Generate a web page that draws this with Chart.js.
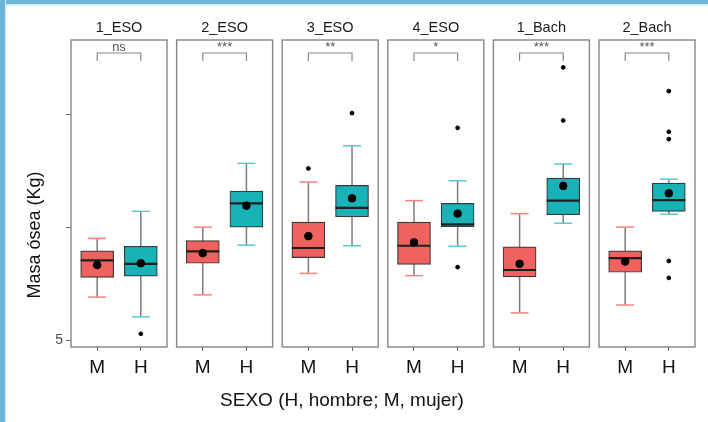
<!DOCTYPE html>
<html>
<head>
<meta charset="utf-8">
<script src="https://cdn.jsdelivr.net/npm/chart.js@4.4.0/dist/chart.umd.min.js"></script>
<style>
  html, body { margin: 0; padding: 0; background: #fff; }
  #wrap { position: relative; width: 708px; height: 422px; overflow: hidden; }
  #chart { position: absolute; left: 0; top: 0; }
  .frame-top { position: absolute; left: 0; top: 0; width: 708px; height: 4px; background: #6db4da; border-bottom: 2px solid #d6ebf6; }
  .frame-left { position: absolute; left: 0; top: 0; width: 5px; height: 422px; background: #6db4da; border-right: 1px solid #d6ebf6; }
</style>
</head>
<body>
<div id="wrap">
  <canvas id="chart" width="708" height="422"></canvas>
  <div class="frame-top"></div>
  <div class="frame-left"></div>
</div>
<script>
const groups = ['1_ESO', '2_ESO', '3_ESO', '4_ESO', '1_Bach', '2_Bach'];
const sexes = ['M', 'H'];
const signif = ['ns', '***', '**', '*', '***', '***'];
const yTicks = [5, 6, 7];

// M (mujer)
const mWhiskerLow  = [5.38, 5.40, 5.59, 5.57, 5.24, 5.31];
const mQ1          = [5.555, 5.68, 5.73, 5.67, 5.56, 5.60];
const mMedian      = [5.705, 5.785, 5.815, 5.835, 5.62, 5.725];
const mQ3          = [5.79, 5.88, 6.045, 6.045, 5.825, 5.79];
const mWhiskerHigh = [5.90, 6.00, 6.40, 6.235, 6.12, 6.00];
const mMean        = [5.665, 5.77, 5.92, 5.865, 5.675, 5.695];
const mOutliers    = [[], [], [6.52], [], [], []];

// H (hombre)
const hWhiskerLow  = [5.205, 5.84, 5.835, 5.83, 6.035, 6.115];
const hQ1          = [5.565, 6.00, 6.09, 6.005, 6.11, 6.14];
const hMedian      = [5.675, 6.21, 6.17, 6.025, 6.235, 6.24];
const hQ3          = [5.83, 6.32, 6.37, 6.21, 6.435, 6.39];
const hWhiskerHigh = [6.14, 6.565, 6.72, 6.41, 6.56, 6.425];
const hMean        = [5.68, 6.19, 6.255, 6.12, 6.365, 6.30];
const hOutliers    = [[5.055], [], [7.01], [6.88, 5.645], [7.415, 6.945], [7.205, 6.845, 6.78, 5.70, 5.55]];

// facet layout on one linear x axis
const panelWidth = 2.2;
const panelGap = 0.22;
const panelStart = i => i * (panelWidth + panelGap);
const posM = i => panelStart(i) + 0.6;
const posH = i => panelStart(i) + 1.6;
const xTicks = groups.flatMap((g, i) => [posM(i), posH(i)]);

const FONT = "'Liberation Sans', Arial, sans-serif";
Chart.defaults.font.family = FONT;

const boxes = [
  { pos: posM, low: mWhiskerLow, q1: mQ1, med: mMedian, q3: mQ3, high: mWhiskerHigh, fill: '#f0625d', cap: '#f2837e' },
  { pos: posH, low: hWhiskerLow, q1: hQ1, med: hMedian, q3: hQ3, high: hWhiskerHigh, fill: '#17b3b7', cap: '#58c9cc' }
];

const meanPoints = groups.flatMap((g, i) => [
  { x: posM(i), y: mMean[i] },
  { x: posH(i), y: hMean[i] }
]);
const outlierPoints = groups.flatMap((g, i) => [
  ...mOutliers[i].map(v => ({ x: posM(i), y: v })),
  ...hOutliers[i].map(v => ({ x: posH(i), y: v }))
]);

const facetPlugin = {
  id: 'facets',
  beforeDatasetsDraw(chart) {
    const { ctx, scales: { x, y } } = chart;
    ctx.save();
    ctx.lineWidth = 1.5;
    boxes.forEach(b => {
      groups.forEach((g, i) => {
        const px = x.getPixelForValue(b.pos(i));
        ctx.strokeStyle = '#7d7d7d';
        ctx.beginPath();
        ctx.moveTo(px, y.getPixelForValue(b.low[i]));
        ctx.lineTo(px, y.getPixelForValue(b.high[i]));
        ctx.stroke();
        ctx.strokeStyle = b.cap;
        [b.low[i], b.high[i]].forEach(v => {
          const py = y.getPixelForValue(v);
          ctx.beginPath();
          ctx.moveTo(px - 9, py);
          ctx.lineTo(px + 9, py);
          ctx.stroke();
        });
      });
    });
    ctx.restore();
  },
  afterDatasetDraw(chart, args) {
    const ds = chart.data.datasets[args.index];
    if (ds.type !== 'bar') return;
    const b = boxes[ds.sexIndex];
    const { ctx, scales: { y } } = chart;
    ctx.save();
    ctx.strokeStyle = '#1e1e1e';
    ctx.lineWidth = 2.2;
    args.meta.data.forEach((el, i) => {
      const py = y.getPixelForValue(b.med[i]);
      ctx.beginPath();
      ctx.moveTo(el.x - el.width / 2, py);
      ctx.lineTo(el.x + el.width / 2, py);
      ctx.stroke();
    });
    ctx.restore();
  },
  afterDraw(chart) {
    const { ctx, chartArea, scales: { x } } = chart;
    const top = chartArea.top, bottom = chartArea.bottom;
    ctx.save();
    groups.forEach((g, i) => {
      const left = x.getPixelForValue(panelStart(i));
      const right = x.getPixelForValue(panelStart(i) + panelWidth);
      ctx.strokeStyle = '#858585';
      ctx.lineWidth = 1.4;
      ctx.strokeRect(left, top, right - left, bottom - top);

      ctx.fillStyle = '#1a1a1a';
      ctx.font = '14.5px ' + FONT;
      ctx.textAlign = 'center';
      ctx.textBaseline = 'middle';
      ctx.fillText(g, (left + right) / 2, top - 12);

      const xm = x.getPixelForValue(posM(i));
      const xh = x.getPixelForValue(posH(i));
      ctx.strokeStyle = '#8a8a8a';
      ctx.lineWidth = 1.2;
      ctx.beginPath();
      ctx.moveTo(xm, top + 21);
      ctx.lineTo(xm, top + 13);
      ctx.lineTo(xh, top + 13);
      ctx.lineTo(xh, top + 21);
      ctx.stroke();

      ctx.fillStyle = '#555';
      ctx.font = '13px ' + FONT;
      ctx.fillText(signif[i], (xm + xh) / 2, top + 7.5);
    });

    ctx.fillStyle = '#111';
    ctx.font = '19px ' + FONT;
    ctx.textAlign = 'center';
    ctx.textBaseline = 'middle';
    ctx.fillText('SEXO (H, hombre; M, mujer)', 342, 401);

    ctx.translate(35, 235);
    ctx.rotate(-Math.PI / 2);
    ctx.font = '18px ' + FONT;
    ctx.fillText('Masa ósea (Kg)', 0, 0);
    ctx.restore();
  }
};

new Chart(document.getElementById('chart'), {
  type: 'scatter',
  data: {
    datasets: [
      {
        label: 'media',
        data: meanPoints,
        backgroundColor: '#000',
        borderColor: '#000',
        pointRadius: 3.8,
        pointHoverRadius: 3.8
      },
      {
        label: 'atípicos',
        data: outlierPoints,
        backgroundColor: '#000',
        borderColor: '#000',
        pointRadius: 1.9,
        pointHoverRadius: 1.9
      },
      {
        type: 'bar',
        label: sexes[0],
        sexIndex: 0,
        data: groups.map((g, i) => ({ x: posM(i), y: [mQ1[i], mQ3[i]] })),
        backgroundColor: boxes[0].fill,
        borderColor: '#3a3a3a',
        borderWidth: 1.2,
        borderSkipped: false,
        barThickness: 33,
        grouped: false
      },
      {
        type: 'bar',
        label: sexes[1],
        sexIndex: 1,
        data: groups.map((g, i) => ({ x: posH(i), y: [hQ1[i], hQ3[i]] })),
        backgroundColor: boxes[1].fill,
        borderColor: '#3a3a3a',
        borderWidth: 1.2,
        borderSkipped: false,
        barThickness: 33,
        grouped: false
      }
    ]
  },
  options: {
    responsive: false,
    animation: false,
    events: [],
    layout: { padding: { top: 40, right: 13, left: 0, bottom: 0 } },
    plugins: {
      legend: { display: false },
      tooltip: { enabled: false }
    },
    scales: {
      x: {
        type: 'linear',
        min: 0,
        max: panelStart(groups.length - 1) + panelWidth,
        offset: false,
        border: { display: false },
        grid: { offset: false, drawOnChartArea: false, drawTicks: true, tickLength: 4, color: '#666' },
        afterBuildTicks: scale => { scale.ticks = xTicks.map(v => ({ value: v })); },
        afterFit: scale => { scale.height = 75; },
        ticks: {
          autoSkip: false,
          maxRotation: 0,
          padding: 5,
          color: '#111',
          font: { size: 19 },
          callback: (v, idx) => sexes[idx % 2]
        }
      },
      y: {
        type: 'linear',
        min: 4.938,
        max: 7.658,
        border: { display: false },
        grid: { drawOnChartArea: false, drawTicks: true, tickLength: 5, color: '#666' },
        afterBuildTicks: scale => { scale.ticks = yTicks.map(v => ({ value: v })); },
        afterFit: scale => { scale.width = 71; },
        ticks: {
          padding: 3,
          color: '#4d4d4d',
          font: { size: 14 },
          callback: v => (v === 5 ? '5' : '')
        }
      }
    }
  },
  plugins: [facetPlugin]
});
</script>
</body>
</html>
